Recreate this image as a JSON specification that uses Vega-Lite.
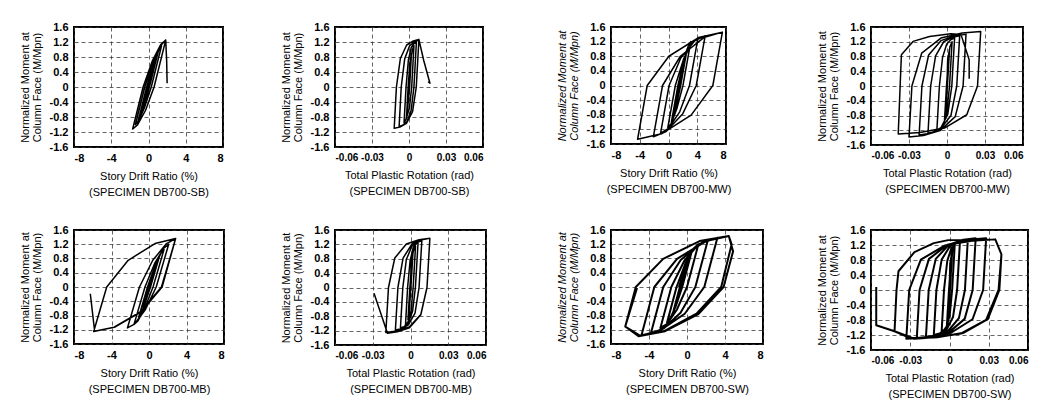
{
"$schema":"https://vega.github.io/schema/vega-lite/v6.json",
"padding":{"left":18,"top":20,"right":0,"bottom":0},
"config":{
 "font":"Liberation Sans",
 "view":{"stroke":"black","strokeWidth":2},
 "axis":{"grid":true,"gridColor":"#333","gridDash":[4,3],"gridWidth":0.9,"gridOpacity":0.85,"domain":false,"ticks":false,"labelFont":"Liberation Sans","labelFontSize":11,"labelFontWeight":"bold","labelColor":"black","labelOverlap":false,"titleFont":"Liberation Sans","titleFontSize":11,"titleFontWeight":"normal","titleColor":"black"},
 "axisX":{"labelPadding":5,"titlePadding":7,"titleLineHeight":16},
 "axisY":{"labelPadding":6,"titlePadding":7,"titleLineHeight":11.5}
},
"datasets":{
"p1":[{"x":0,"y":0},{"x":0.5,"y":0.5},{"x":0.7,"y":0.65},{"x":0.05,"y":0},{"x":-0.37,"y":-0.385},{"x":-0.68,"y":-0.63},{"x":-0.8,"y":-0.7},{"x":-0.1,"y":0},{"x":0.45,"y":0.495},{"x":0.84,"y":0.81},{"x":1.0,"y":0.9},{"x":0.1,"y":0},{"x":-0.47,"y":-0.495},{"x":-0.91,"y":-0.81},{"x":-1.1,"y":-0.9},{"x":-0.2,"y":0},{"x":0.53,"y":0.605},{"x":1.12,"y":0.99},{"x":1.4,"y":1.1},{"x":0.3,"y":0},{"x":-0.43,"y":-0.55},{"x":-1.06,"y":-0.9},{"x":-1.4,"y":-1.0},{"x":-0.4,"y":0},{"x":0.54,"y":0.69},{"x":1.38,"y":1.13},{"x":1.85,"y":1.25},{"x":0.6,"y":0},{"x":-0.31,"y":-0.62},{"x":-1.18,"y":-1.01},{"x":-1.7,"y":-1.12},{"x":-0.58,"y":0},{"x":0.4,"y":0.69},{"x":1.31,"y":1.13},{"x":1.85,"y":1.25},{"x":1.95,"y":0.7},{"x":2.0,"y":0.1}],
"p2":[{"x":0,"y":0},{"x":0.0005,"y":0.6},{"x":0.002,"y":0.9},{"x":0.0005,"y":0},{"x":-0.0012,"y":-0.6},{"x":-0.002,"y":-0.8},{"x":-0.0007,"y":0},{"x":0.0008,"y":0.66},{"x":0.0028,"y":0.99},{"x":0.004,"y":1.1},{"x":0.0022,"y":0},{"x":0.0003,"y":-0.57},{"x":-0.0024,"y":-0.86},{"x":-0.004,"y":-0.95},{"x":-0.0024,"y":0},{"x":-0.0005,"y":0.72},{"x":0.0019,"y":1.06},{"x":0.0041,"y":1.16},{"x":0.006,"y":1.2},{"x":0.004,"y":0},{"x":0.0017,"y":-0.63},{"x":-0.0016,"y":-0.92},{"x":-0.0051,"y":-1.02},{"x":-0.008,"y":-1.05},{"x":-0.0063,"y":0},{"x":-0.0035,"y":0.75},{"x":0.0005,"y":1.1},{"x":0.0045,"y":1.21},{"x":0.008,"y":1.25},{"x":0.0059,"y":0},{"x":0.0029,"y":-0.66},{"x":-0.0021,"y":-0.97},{"x":-0.0074,"y":-1.07},{"x":-0.012,"y":-1.1},{"x":-0.0102,"y":0},{"x":-0.007,"y":0.76},{"x":-0.0019,"y":1.12},{"x":0.0035,"y":1.23},{"x":0.008,"y":1.27},{"x":0.012,"y":0.7},{"x":0.017,"y":0.1},{"x":0.0155,"y":0.14}],
"p3":[{"x":1.5,"y":0},{"x":2.25,"y":0.75},{"x":1.57,"y":0},{"x":1.16,"y":-0.41},{"x":0.87,"y":-0.68},{"x":0.75,"y":-0.75},{"x":1.43,"y":0},{"x":2.0,"y":0.55},{"x":2.42,"y":0.9},{"x":2.6,"y":1.0},{"x":1.69,"y":0},{"x":1.1,"y":-0.55},{"x":0.63,"y":-0.9},{"x":0.4,"y":-1.0},{"x":1.31,"y":0},{"x":2.08,"y":0.66},{"x":2.75,"y":1.08},{"x":3.1,"y":1.2},{"x":2.01,"y":0},{"x":1.17,"y":-0.63},{"x":0.38,"y":-1.04},{"x":-0.1,"y":-1.15},{"x":0.95,"y":0},{"x":2.09,"y":0.72},{"x":3.29,"y":1.17},{"x":4.1,"y":1.3},{"x":2.92,"y":0},{"x":1.56,"y":-0.72},{"x":0.01,"y":-1.17},{"x":-1.1,"y":-1.3},{"x":0.08,"y":0},{"x":1.71,"y":0.75},{"x":3.65,"y":1.22},{"x":5.1,"y":1.36},{"x":3.86,"y":0},{"x":1.99,"y":-0.77},{"x":-0.33,"y":-1.26},{"x":-2.1,"y":-1.4},{"x":-0.83,"y":0},{"x":1.65,"y":0.8},{"x":4.92,"y":1.31},{"x":7.5,"y":1.46},{"x":6.17,"y":0},{"x":3.15,"y":-0.81},{"x":-0.97,"y":-1.32},{"x":-4.3,"y":-1.47},{"x":-2.96,"y":0},{"x":0.05,"y":0.8},{"x":4.17,"y":1.31},{"x":7.5,"y":1.46}],
"p4":[{"x":0,"y":0},{"x":0.0005,"y":0.7},{"x":0.002,"y":1.0},{"x":0.0003,"y":0},{"x":-0.0012,"y":-0.75},{"x":-0.002,"y":-0.95},{"x":-0.0004,"y":0},{"x":0.0011,"y":0.72},{"x":0.0023,"y":1.06},{"x":0.004,"y":1.2},{"x":0.002,"y":0},{"x":-0.0002,"y":-0.72},{"x":-0.003,"y":-1.06},{"x":-0.0057,"y":-1.16},{"x":-0.008,"y":-1.2},{"x":-0.006,"y":0},{"x":-0.0035,"y":0.78},{"x":-0.0002,"y":1.14},{"x":0.0032,"y":1.26},{"x":0.006,"y":1.3},{"x":0.0038,"y":0},{"x":0.0006,"y":-0.77},{"x":-0.0047,"y":-1.13},{"x":-0.0103,"y":-1.24},{"x":-0.015,"y":-1.28},{"x":-0.0129,"y":0},{"x":-0.009,"y":0.82},{"x":-0.0026,"y":1.2},{"x":0.0042,"y":1.32},{"x":0.01,"y":1.36},{"x":0.0077,"y":0},{"x":0.0031,"y":-0.8},{"x":-0.0052,"y":-1.17},{"x":-0.0142,"y":-1.29},{"x":-0.022,"y":-1.33},{"x":-0.0198,"y":0},{"x":-0.0145,"y":0.84},{"x":-0.0048,"y":1.23},{"x":0.0058,"y":1.36},{"x":0.015,"y":1.4},{"x":0.0127,"y":0},{"x":0.0065,"y":-0.83},{"x":-0.0055,"y":-1.21},{"x":-0.0186,"y":-1.34},{"x":-0.03,"y":-1.38},{"x":-0.0277,"y":0},{"x":-0.02,"y":0.89},{"x":-0.0048,"y":1.3},{"x":0.012,"y":1.44},{"x":0.0266,"y":1.48},{"x":0.0241,"y":0},{"x":0.0156,"y":-0.78},{"x":-0.002,"y":-1.14},{"x":-0.0215,"y":-1.26},{"x":-0.0385,"y":-1.3},{"x":-0.037,"y":0},{"x":-0.036,"y":0.85},{"x":-0.0268,"y":1.21},{"x":-0.0138,"y":1.34},{"x":0.003,"y":1.42},{"x":0.011,"y":1.4},{"x":0.0175,"y":0.71},{"x":0.0175,"y":0.2}],
"p5":[{"x":0,"y":0},{"x":0.7,"y":0.55},{"x":0.09,"y":0},{"x":-0.29,"y":-0.3},{"x":-0.58,"y":-0.5},{"x":-0.7,"y":-0.55},{"x":-0.09,"y":0},{"x":0.49,"y":0.47},{"x":0.92,"y":0.77},{"x":1.1,"y":0.85},{"x":0.16,"y":0},{"x":-0.44,"y":-0.47},{"x":-0.9,"y":-0.77},{"x":-1.1,"y":-0.85},{"x":-0.16,"y":0},{"x":0.63,"y":0.58},{"x":1.28,"y":0.95},{"x":1.6,"y":1.05},{"x":0.43,"y":0},{"x":-0.43,"y":-0.58},{"x":-1.18,"y":-0.95},{"x":-1.6,"y":-1.05},{"x":-0.43,"y":0},{"x":0.6,"y":0.66},{"x":1.55,"y":1.08},{"x":2.1,"y":1.2},{"x":0.77,"y":0},{"x":-0.38,"y":-0.63},{"x":-1.55,"y":-1.04},{"x":-2.3,"y":-1.15},{"x":-1.02,"y":0},{"x":0.4,"y":0.75},{"x":1.87,"y":1.22},{"x":2.84,"y":1.36},{"x":1.33,"y":0},{"x":-0.9,"y":-0.69},{"x":-3.72,"y":-1.13},{"x":-5.9,"y":-1.25},{"x":-4.51,"y":0},{"x":-2.22,"y":0.75},{"x":0.64,"y":1.22},{"x":2.84,"y":1.36},{"x":1.4,"y":0},{"x":-0.8,"y":-0.69},{"x":-3.6,"y":-1.12},{"x":-5.8,"y":-1.24},{"x":-6.26,"y":-0.19}],
"p6":[{"x":0,"y":0},{"x":0.0005,"y":0.7},{"x":0.002,"y":1.0},{"x":0.0003,"y":0},{"x":-0.0011,"y":-0.7},{"x":-0.002,"y":-0.9},{"x":-0.0005,"y":0},{"x":0.001,"y":0.69},{"x":0.0022,"y":1.01},{"x":0.004,"y":1.15},{"x":0.0021,"y":0},{"x":0.0005,"y":-0.63},{"x":-0.0012,"y":-0.92},{"x":-0.004,"y":-1.05},{"x":-0.0023,"y":0},{"x":-0.0003,"y":0.75},{"x":0.0021,"y":1.1},{"x":0.0042,"y":1.21},{"x":0.006,"y":1.25},{"x":0.0039,"y":0},{"x":0.0016,"y":-0.67},{"x":-0.0018,"y":-0.99},{"x":-0.0051,"y":-1.09},{"x":-0.008,"y":-1.12},{"x":-0.0061,"y":0},{"x":-0.0033,"y":0.78},{"x":0.001,"y":1.14},{"x":0.0053,"y":1.26},{"x":0.009,"y":1.3},{"x":0.0068,"y":0},{"x":0.0036,"y":-0.71},{"x":-0.0017,"y":-1.04},{"x":-0.0072,"y":-1.15},{"x":-0.012,"y":-1.18},{"x":-0.01,"y":0},{"x":-0.0059,"y":0.82},{"x":0.0012,"y":1.21},{"x":0.0089,"y":1.33},{"x":0.0154,"y":1.37},{"x":0.0131,"y":0},{"x":0.0082,"y":-0.75},{"x":-0.001,"y":-1.1},{"x":-0.011,"y":-1.21},{"x":-0.0196,"y":-1.25},{"x":-0.0175,"y":0},{"x":-0.0125,"y":0.82},{"x":-0.0033,"y":1.21},{"x":0.0068,"y":1.33},{"x":0.0154,"y":1.37},{"x":0.0131,"y":0},{"x":0.0082,"y":-0.76},{"x":-0.0008,"y":-1.12},{"x":-0.0105,"y":-1.23},{"x":-0.0183,"y":-1.27},{"x":-0.029,"y":-0.16}],
"p7":[{"x":-0.85,"y":0},{"x":0.1,"y":0.75},{"x":-0.65,"y":0},{"x":-1.09,"y":-0.41},{"x":-1.39,"y":-0.68},{"x":-1.5,"y":-0.75},{"x":-0.75,"y":0},{"x":-0.14,"y":0.55},{"x":0.31,"y":0.9},{"x":0.5,"y":1.0},{"x":-0.5,"y":0},{"x":-1.2,"y":-0.55},{"x":-1.79,"y":-0.9},{"x":-2.1,"y":-1.0},{"x":-1.1,"y":0},{"x":-0.17,"y":0.66},{"x":0.7,"y":1.08},{"x":1.2,"y":1.2},{"x":0.0,"y":0},{"x":-1.05,"y":-0.63},{"x":-2.11,"y":-1.04},{"x":-2.8,"y":-1.15},{"x":-1.65,"y":0},{"x":-0.29,"y":0.73},{"x":1.18,"y":1.19},{"x":2.2,"y":1.32},{"x":0.88,"y":0},{"x":-0.68,"y":-0.72},{"x":-2.49,"y":-1.17},{"x":-3.8,"y":-1.3},{"x":-2.5,"y":0},{"x":-0.66,"y":0.76},{"x":1.55,"y":1.24},{"x":3.2,"y":1.38},{"x":1.82,"y":0},{"x":-0.24,"y":-0.75},{"x":-2.82,"y":-1.22},{"x":-4.8,"y":-1.36},{"x":-3.44,"y":0},{"x":-1.05,"y":0.79},{"x":2.01,"y":1.29},{"x":4.4,"y":1.43},{"x":4.85,"y":1.0},{"x":3.85,"y":0},{"x":1.2,"y":-0.76},{"x":-2.31,"y":-1.24},{"x":-5.1,"y":-1.38},{"x":-6.5,"y":-1.11},{"x":-5.39,"y":0},{"x":-2.51,"y":0.79},{"x":1.33,"y":1.29},{"x":4.4,"y":1.43},{"x":4.7,"y":1.2},{"x":3.6,"y":0},{"x":1.0,"y":-0.75},{"x":-2.5,"y":-1.25},{"x":-5.0,"y":-1.36},{"x":-6.5,"y":-1.11},{"x":-5.26,"y":-0.03}],
"p8":[{"x":0,"y":0},{"x":0.0005,"y":0.7},{"x":0.002,"y":1.0},{"x":0.0003,"y":0},{"x":-0.0012,"y":-0.75},{"x":-0.002,"y":-0.95},{"x":-0.0004,"y":0},{"x":0.0011,"y":0.72},{"x":0.0023,"y":1.06},{"x":0.004,"y":1.2},{"x":0.002,"y":0},{"x":0.0002,"y":-0.66},{"x":-0.0021,"y":-0.97},{"x":-0.0042,"y":-1.07},{"x":-0.006,"y":-1.1},{"x":-0.0042,"y":0},{"x":-0.0017,"y":0.78},{"x":0.0017,"y":1.14},{"x":0.0051,"y":1.26},{"x":0.008,"y":1.3},{"x":0.0058,"y":0},{"x":0.0027,"y":-0.72},{"x":-0.0023,"y":-1.06},{"x":-0.0075,"y":-1.16},{"x":-0.012,"y":-1.2},{"x":-0.01,"y":0},{"x":-0.006,"y":0.81},{"x":0.0007,"y":1.19},{"x":0.0078,"y":1.31},{"x":0.014,"y":1.35},{"x":0.0118,"y":0},{"x":0.0072,"y":-0.75},{"x":-0.0012,"y":-1.1},{"x":-0.0102,"y":-1.21},{"x":-0.018,"y":-1.25},{"x":-0.0159,"y":0},{"x":-0.0105,"y":0.83},{"x":-0.0004,"y":1.21},{"x":0.0105,"y":1.34},{"x":0.02,"y":1.38},{"x":0.0177,"y":0},{"x":0.0116,"y":-0.77},{"x":-0.0004,"y":-1.13},{"x":-0.0136,"y":-1.24},{"x":-0.025,"y":-1.28},{"x":-0.0229,"y":0},{"x":-0.0157,"y":0.83},{"x":-0.0014,"y":1.21},{"x":0.0143,"y":1.34},{"x":0.028,"y":1.38},{"x":0.0257,"y":0},{"x":0.0176,"y":-0.78},{"x":0.0012,"y":-1.14},{"x":-0.0171,"y":-1.26},{"x":-0.033,"y":-1.3},{"x":-0.0308,"y":0},{"x":-0.0219,"y":0.81},{"x":-0.0034,"y":1.19},{"x":0.0171,"y":1.31},{"x":0.035,"y":1.35},{"x":0.0397,"y":0.95},{"x":0.0381,"y":0},{"x":0.0293,"y":-0.78},{"x":0.011,"y":-1.14},{"x":-0.0093,"y":-1.26},{"x":-0.027,"y":-1.3},{"x":-0.042,"y":-1.1},{"x":-0.0405,"y":0},{"x":-0.039,"y":0.5},{"x":-0.0268,"y":1.01},{"x":-0.012,"y":1.25},{"x":-0.001,"y":1.33},{"x":0.035,"y":1.35},{"x":0.0397,"y":0.95},{"x":0.0375,"y":0},{"x":0.028,"y":-0.8},{"x":0.009,"y":-1.16},{"x":-0.012,"y":-1.27},{"x":-0.03,"y":-1.28},{"x":-0.042,"y":-1.1},{"x":-0.056,"y":-0.94},{"x":-0.056,"y":0.08}]
},
"columns":7,
"spacing":{"row":83,"column":0},
"bounds":"flush",
"concat":[
{"width":149,"height":120,"data":{"name":"p1"},"mark":{"type":"line","color":"black","strokeWidth":1.5,"strokeJoin":"round","clip":true},"encoding":{"x":{"field":"x","type":"quantitative","scale":{"domain":[-8,8],"nice":false,"zero":false},"axis":{"values":[-8,-4,0,4,8],"format":"~g","labelExpr":"replace(datum.label,'−','-')","title":["Story Drift Ratio (%)","(SPECIMEN DB700-SB)"]}},"y":{"field":"y","type":"quantitative","scale":{"domain":[-1.6,1.6],"nice":false,"zero":false},"axis":{"values":[-1.6,-1.2,-0.8,-0.4,0,0.4,0.8,1.2,1.6],"format":"~g","labelExpr":"replace(datum.label,'−','-')","title":["Normalized Moment at","Column Face (M/Mpn)"]}},"order":{"value":null}}},
{"width":111,"height":20,"data":{"values":[{"x":0}]},"mark":{"type":"point","opacity":0},"view":{"stroke":null},"encoding":{}},
{"width":148,"height":120,"data":{"name":"p2"},"mark":{"type":"line","color":"black","strokeWidth":1.5,"strokeJoin":"round","clip":true},"encoding":{"x":{"field":"x","type":"quantitative","scale":{"domain":[-0.06,0.06],"nice":false,"zero":false},"axis":{"values":[-0.06,-0.03,0,0.03,0.06],"format":"~g","labelExpr":"replace(datum.label,'−','-')","labelFontSize":10,"title":["Total Plastic Rotation (rad)","(SPECIMEN DB700-SB)"]}},"y":{"field":"y","type":"quantitative","scale":{"domain":[-1.6,1.6],"nice":false,"zero":false},"axis":{"values":[-1.6,-1.2,-0.8,-0.4,0,0.4,0.8,1.2,1.6],"format":"~g","labelExpr":"replace(datum.label,'−','-')","title":["Normalized Moment at","Column Face (M/Mpn)"]}},"order":{"value":null}}},
{"width":125,"height":20,"data":{"values":[{"x":0}]},"mark":{"type":"point","opacity":0},"view":{"stroke":null},"encoding":{}},
{"width":115,"height":117,"data":{"name":"p3"},"mark":{"type":"line","color":"black","strokeWidth":1.5,"strokeJoin":"round","clip":true},"encoding":{"x":{"field":"x","type":"quantitative","scale":{"domain":[-8,8],"nice":false,"zero":false},"axis":{"values":[-8,-4,0,4,8],"format":"~g","labelExpr":"replace(datum.label,'−','-')","title":["Story Drift Ratio (%)","(SPECIMEN DB700-MW)"]}},"y":{"field":"y","type":"quantitative","scale":{"domain":[-1.6,1.6],"nice":false,"zero":false},"axis":{"values":[-1.6,-1.2,-0.8,-0.4,0,0.4,0.8,1.2,1.6],"format":"~g","labelExpr":"replace(datum.label,'−','-')","titleFontStyle":"italic","title":["Normalized Moment at","Column Face (M/Mpn)"]}},"order":{"value":null}}},
{"width":108,"height":20,"data":{"values":[{"x":0}]},"mark":{"type":"point","opacity":0},"view":{"stroke":null},"encoding":{}},
{"width":152,"height":118,"data":{"name":"p4"},"mark":{"type":"line","color":"black","strokeWidth":1.5,"strokeJoin":"round","clip":true},"encoding":{"x":{"field":"x","type":"quantitative","scale":{"domain":[-0.06,0.06],"nice":false,"zero":false},"axis":{"values":[-0.06,-0.03,0,0.03,0.06],"format":"~g","labelExpr":"replace(datum.label,'−','-')","labelFontSize":10,"title":["Total Plastic Rotation (rad)","(SPECIMEN DB700-MW)"]}},"y":{"field":"y","type":"quantitative","scale":{"domain":[-1.6,1.6],"nice":false,"zero":false},"axis":{"values":[-1.6,-1.2,-0.8,-0.4,0,0.4,0.8,1.2,1.6],"format":"~g","labelExpr":"replace(datum.label,'−','-')","title":["Normalized Moment at","Column Face (M/Mpn)"]}},"order":{"value":null}}},
{"width":150,"height":114,"data":{"name":"p5"},"mark":{"type":"line","color":"black","strokeWidth":1.5,"strokeJoin":"round","clip":true},"encoding":{"x":{"field":"x","type":"quantitative","scale":{"domain":[-8,8],"nice":false,"zero":false},"axis":{"values":[-8,-4,0,4,8],"format":"~g","labelExpr":"replace(datum.label,'−','-')","title":["Story Drift Ratio (%)","(SPECIMEN DB700-MB)"]}},"y":{"field":"y","type":"quantitative","scale":{"domain":[-1.6,1.6],"nice":false,"zero":false},"axis":{"values":[-1.6,-1.2,-0.8,-0.4,0,0.4,0.8,1.2,1.6],"format":"~g","labelExpr":"replace(datum.label,'−','-')","title":["Normalized Moment at","Column Face (M/Mpn)"]}},"order":{"value":null}}},
{"width":111,"height":20,"data":{"values":[{"x":0}]},"mark":{"type":"point","opacity":0},"view":{"stroke":null},"encoding":{}},
{"width":151,"height":115,"data":{"name":"p6"},"mark":{"type":"line","color":"black","strokeWidth":1.5,"strokeJoin":"round","clip":true},"encoding":{"x":{"field":"x","type":"quantitative","scale":{"domain":[-0.06,0.06],"nice":false,"zero":false},"axis":{"values":[-0.06,-0.03,0,0.03,0.06],"format":"~g","labelExpr":"replace(datum.label,'−','-')","labelFontSize":10,"title":["Total Plastic Rotation (rad)","(SPECIMEN DB700-MB)"]}},"y":{"field":"y","type":"quantitative","scale":{"domain":[-1.6,1.6],"nice":false,"zero":false},"axis":{"values":[-1.6,-1.2,-0.8,-0.4,0,0.4,0.8,1.2,1.6],"format":"~g","labelExpr":"replace(datum.label,'−','-')","title":["Normalized Moment at","Column Face (M/Mpn)"]}},"order":{"value":null}}},
{"width":125,"height":20,"data":{"values":[{"x":0}]},"mark":{"type":"point","opacity":0},"view":{"stroke":null},"encoding":{}},
{"width":152,"height":114,"data":{"name":"p7"},"mark":{"type":"line","color":"black","strokeWidth":2,"strokeJoin":"round","clip":true},"encoding":{"x":{"field":"x","type":"quantitative","scale":{"domain":[-8,8],"nice":false,"zero":false},"axis":{"values":[-8,-4,0,4,8],"format":"~g","labelExpr":"replace(datum.label,'−','-')","title":["Story Drift Ratio (%)","(SPECIMEN DB700-SW)"]}},"y":{"field":"y","type":"quantitative","scale":{"domain":[-1.6,1.6],"nice":false,"zero":false},"axis":{"values":[-1.6,-1.2,-0.8,-0.4,0,0.4,0.8,1.2,1.6],"format":"~g","labelExpr":"replace(datum.label,'−','-')","titleFontStyle":"italic","title":["Normalized Moment at","Column Face (M/Mpn)"]}},"order":{"value":null}}},
{"width":108,"height":20,"data":{"values":[{"x":0}]},"mark":{"type":"point","opacity":0},"view":{"stroke":null},"encoding":{}},
{"width":157,"height":120,"data":{"name":"p8"},"mark":{"type":"line","color":"black","strokeWidth":2,"strokeJoin":"round","clip":true},"encoding":{"x":{"field":"x","type":"quantitative","scale":{"domain":[-0.06,0.06],"nice":false,"zero":false},"axis":{"values":[-0.06,-0.03,0,0.03,0.06],"format":"~g","labelExpr":"replace(datum.label,'−','-')","labelFontSize":10,"title":["Total Plastic Rotation (rad)","(SPECIMEN DB700-SW)"]}},"y":{"field":"y","type":"quantitative","scale":{"domain":[-1.6,1.6],"nice":false,"zero":false},"axis":{"values":[-1.6,-1.2,-0.8,-0.4,0,0.4,0.8,1.2,1.6],"format":"~g","labelExpr":"replace(datum.label,'−','-')","title":["Normalized Moment at","Column Face (M/Mpn)"]}},"order":{"value":null}}}
]
}
